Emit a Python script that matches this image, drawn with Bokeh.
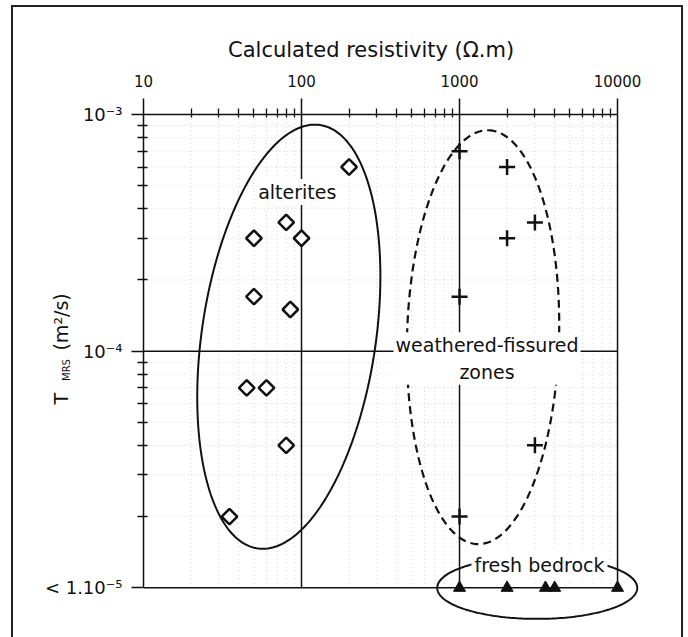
import numpy as np
from bokeh.plotting import figure
from bokeh.models import FixedTicker, Label, LogAxis
from bokeh.embed import file_html
from bokeh.resources import INLINE

# ---------------- data ----------------
alt_res = [200, 80, 50, 100, 50, 85, 45, 60, 80, 35]
alt_t = [6e-4, 3.5e-4, 3e-4, 3e-4, 1.7e-4, 1.5e-4, 7e-5, 7e-5, 4e-5, 2e-5]

wf_res = [1000, 2000, 3000, 2000, 1000, 3000, 1000]
wf_t = [7e-4, 6e-4, 3.5e-4, 3e-4, 1.7e-4, 4e-5, 2e-5]

fb_res = [1000, 2000, 3500, 4000, 10000]
fb_t = [1e-5, 1e-5, 1e-5, 1e-5, 1e-5]

x_ticks = [10, 100, 1000, 10000]
x_tick_labels = ["10", "100", "1000", "10000"]
y_ticks = [1e-5, 1e-4, 1e-3]
y_tick_labels = ["< 1.10\u207b\u2075", "10\u207b\u2074", "10\u207b\u00b3"]

x_minor = [k * 10.0 ** e for e in (1, 2, 3) for k in range(2, 10)]
y_minor = [k * 10.0 ** e for e in (-5, -4) for k in range(2, 10)]

# group outlines: centre (data), semi-axes (px), tilt (deg)
ell_alt = dict(cx=83.1, cy=1.151e-4, a=214, b=87, tilt=8.4)
ell_wf = dict(cx=1409, cy=1.146e-4, a=207, b=76, tilt=1.5)
ell_fb = dict(cx=3103, cy=1.0e-5, a=31, b=100, tilt=0.0)

NB = "\u00a0"
x_title = "Calculated resistivity (\u03a9.m)" + NB * 7
y_title_main = NB * 7 + "T" + NB * 7 + "(m\u00b2/s)"
y_title_sub = "MRS"

# ---------------- layout ----------------
W, H = 688, 637
LEFT, RIGHT, TOP, BOTTOM = 143, 43, 114, 12
FW, FH = W - LEFT - RIGHT, H - TOP - BOTTOM
XDEC = 3.177
YDEC = 2.159
PXX = FW / XDEC
PXY = FH / YDEC
FONT = "DejaVu Sans"
INK = "#111111"

p = figure(width=W, height=H, x_axis_type="log", y_axis_type="log",
           x_axis_location="above",
           x_range=(10, 10 ** (1 + XDEC)), y_range=(10 ** (-3 - YDEC), 1e-3),
           output_backend="svg", toolbar_location=None,
           min_border_left=LEFT, min_border_right=RIGHT,
           min_border_top=TOP, min_border_bottom=BOTTOM)
p.grid.visible = False
p.outline_line_color = None
p.border_fill_alpha = 0
p.background_fill_color = "white"
p.styles = {"box-shadow": ", ".join([
    "inset 11px 0 0 0 #ffffff", "inset 0 5px 0 0 #ffffff", "inset -5px 0 0 0 #ffffff",
    "inset 13px 0 0 0 #222222", "inset 0 7px 0 0 #222222", "inset -7px 0 0 0 #222222",
])}

# axes
xa = p.xaxis[0]
xa.ticker = FixedTicker(ticks=x_ticks, minor_ticks=x_minor)
xa.bounds = (x_ticks[0], x_ticks[-1])
xa.major_label_overrides = dict(zip(x_ticks, x_tick_labels))
xa.major_tick_out = 16
xa.major_tick_in = 0
xa.minor_tick_out = 6
xa.minor_tick_in = 3
xa.major_label_standoff = 12
xa.major_label_text_font_size = "15px"
xa.axis_label = x_title
xa.axis_label_standoff = 10
xa.axis_label_text_font_size = "21px"

ya = p.yaxis[0]
ya.ticker = FixedTicker(ticks=y_ticks, minor_ticks=y_minor)
ya.bounds = (y_ticks[0], y_ticks[-1])
ya.major_label_overrides = dict(zip(y_ticks, y_tick_labels))
ya.major_tick_out = 12
ya.major_tick_in = 0
ya.minor_tick_out = 6
ya.minor_tick_in = 4
ya.major_label_standoff = 9
ya.major_label_text_font_size = "18px"
ya.axis_label = y_title_main
ya.axis_label_standoff = -30
ya.axis_label_text_font_size = "19px"

# second (label-only) axis carrying the subscript of the y title
ys = LogAxis(ticker=FixedTicker(ticks=[y_ticks[-1]]),
             major_label_overrides={y_ticks[-1]: ""},
             axis_label=y_title_sub, axis_label_standoff=-25,
             axis_label_text_font_size="10px",
             axis_line_color=None, major_tick_line_color=None,
             minor_tick_line_color=None, major_tick_out=0, major_tick_in=0,
             minor_tick_out=0, minor_tick_in=0, major_label_standoff=0)
p.add_layout(ys, "left")

for ax in (xa, ya, ys):
    ax.major_label_text_font = FONT
    ax.major_label_text_color = INK
    ax.axis_label_text_font = FONT
    ax.axis_label_text_font_style = "normal"
    ax.axis_label_text_color = INK
for ax in (xa, ya):
    ax.axis_line_color = INK
    ax.axis_line_width = 1.5
    ax.major_tick_line_color = INK
    ax.major_tick_line_width = 1.5
    ax.minor_tick_line_color = INK
    ax.minor_tick_line_width = 1.3

# minor grid (faint dotted)
xlo, xhi = x_ticks[0], x_ticks[-1]
ylo, yhi = y_ticks[0], y_ticks[-1]
p.segment(x0=x_minor, y0=[ylo] * len(x_minor), x1=x_minor, y1=[yhi] * len(x_minor),
          line_color="#d4d4d4", line_width=1, line_dash="1 3")
p.segment(x0=[xlo] * len(y_minor), y0=y_minor, x1=[xhi] * len(y_minor), y1=y_minor,
          line_color="#d4d4d4", line_width=1, line_dash="1 3")

# major grid lines (solid)
vx = x_ticks[1:]
p.segment(x0=vx, y0=[ylo] * len(vx), x1=vx, y1=[yhi] * len(vx),
          line_color=INK, line_width=1.5)
hy = y_ticks[:-1]
p.segment(x0=[xlo] * len(hy), y0=hy, x1=[xhi] * len(hy), y1=hy,
          line_color=INK, line_width=1.5)


def ellipse(e, n=240):
    t = np.linspace(0, 2 * np.pi, n)
    th = np.radians(e["tilt"])
    dx = e["a"] * np.cos(t) * np.sin(th) + e["b"] * np.sin(t) * np.cos(th)
    dy = e["a"] * np.cos(t) * np.cos(th) - e["b"] * np.sin(t) * np.sin(th)
    return e["cx"] * 10 ** (dx / PXX), e["cy"] * 10 ** (dy / PXY)


ex, ey = ellipse(ell_alt)
p.line(ex, ey, line_color=INK, line_width=2)
ex, ey = ellipse(ell_wf)
p.line(ex, ey, line_color=INK, line_width=2.2, line_dash="8 5")
ex, ey = ellipse(ell_fb)
p.line(ex, ey, line_color=INK, line_width=2)

# markers
p.scatter(alt_res, alt_t, marker="square", angle=np.pi / 4, size=11,
          line_color=INK, line_width=2.5, fill_color="white")
p.scatter(wf_res, wf_t, marker="cross", size=16, line_color=INK, line_width=2.5)
p.scatter(fb_res, fb_t, marker="triangle", size=12, line_color=INK, fill_color=INK)

# group labels
lab_kw = dict(text_font=FONT, text_font_size="19px", text_color=INK,
              text_align="center", text_baseline="middle",
              background_fill_color="white")
p.add_layout(Label(x=94, y=4.7e-4, text="alterites", padding=2, **lab_kw))
p.add_layout(Label(x=1493, y=9.31e-5, text="weathered-fissured\nzones",
                   padding=2, **lab_kw))
p.add_layout(Label(x=3206, y=1.245e-5, text="fresh bedrock", padding=3, **lab_kw))

open("out.html", "w").write(file_html(p, INLINE))
